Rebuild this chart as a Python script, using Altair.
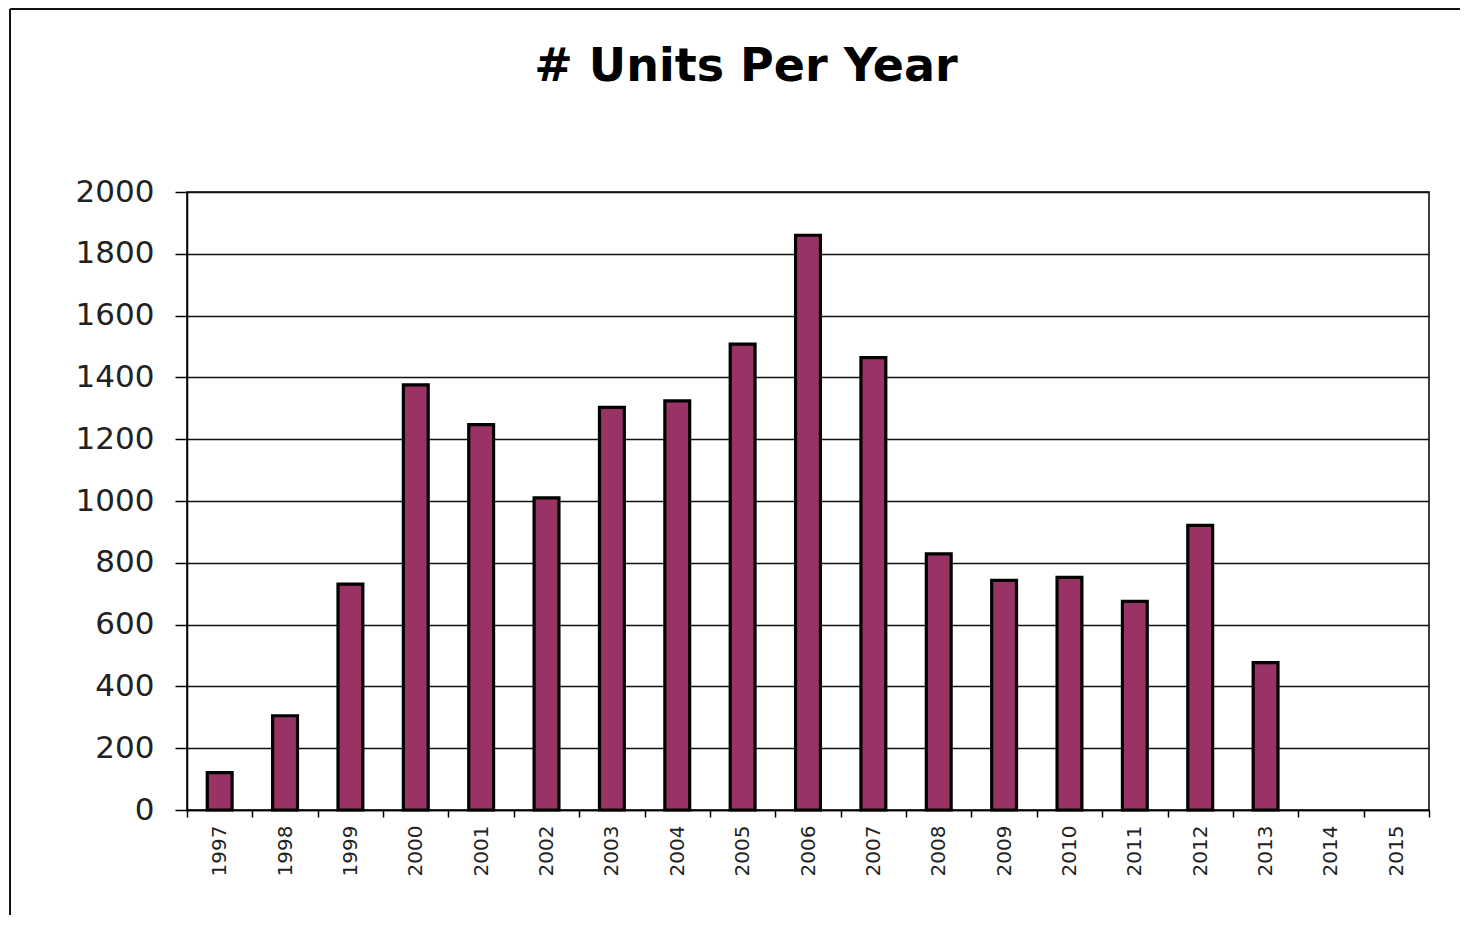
import altair as alt
import pandas as pd

years = ["1997", "1998", "1999", "2000", "2001", "2002", "2003", "2004", "2005", "2006",
         "2007", "2008", "2009", "2010", "2011", "2012", "2013", "2014", "2015"]
units = [121, 305, 731, 1376, 1247, 1010, 1303, 1324, 1508, 1860,
         1464, 829, 743, 753, 675, 921, 477, 0, 0]
y_ticks = [0, 200, 400, 600, 800, 1000, 1200, 1400, 1600, 1800, 2000]

df = pd.DataFrame({"year": years, "units": units})

FONT = "DejaVu Sans"

bars = alt.Chart(df).transform_filter("datum.units > 0").mark_bar(
    color="#993366", stroke="#000000", strokeWidth=3.2,
    width=alt.RelativeBandSize(0.38)
).encode(
    x=alt.X("year:N", title=None,
            scale=alt.Scale(domain=years, paddingInner=0, paddingOuter=0),
            axis=alt.Axis(labelAngle=270, labelFont=FONT, labelFontSize=20,
                          labelColor="#222222", labelPadding=8,
                          tickBand="extent", tickSize=7, tickColor="#000000",
                          tickWidth=1.5, domainColor="#000000", domainWidth=1.5,
                          grid=False)),
    y=alt.Y("units:Q", title=None,
            scale=alt.Scale(domain=[0, 2000], nice=False),
            axis=alt.Axis(values=y_ticks, format="d", labelFont=FONT, labelFontSize=31,
                          labelColor="#222222", labelPadding=21,
                          tickSize=12, tickColor="#000000", tickWidth=1.5,
                          domainColor="#000000", domainWidth=1.5,
                          grid=True, gridColor="#111111", gridWidth=1.5))
)

frame_df = pd.DataFrame({"k": [0]})
left_line = alt.Chart(frame_df).mark_rule(color="#111111", strokeWidth=2).encode(
    x=alt.value(-177), y=alt.value(-183), y2=alt.value(730)
)
top_line = alt.Chart(frame_df).mark_rule(color="#111111", strokeWidth=2).encode(
    x=alt.value(-177), x2=alt.value(1275), y=alt.value(-183)
)

chart = alt.layer(bars, left_line, top_line).properties(
    width=1242, height=618,
    autosize=alt.AutoSizeParams(type="none"),
    padding={"left": 179, "top": 184, "right": 31, "bottom": 105},
    title=alt.TitleParams("# Units Per Year", font=FONT, fontSize=46,
                          fontWeight="bold", color="#000000", baseline="alphabetic",
                          anchor="middle", frame="group", dx=-62, offset=-119)
).configure_view(stroke="#000000", strokeWidth=1.5)

chart.save("out.html", embed_options={"renderer": "svg", "actions": False})
